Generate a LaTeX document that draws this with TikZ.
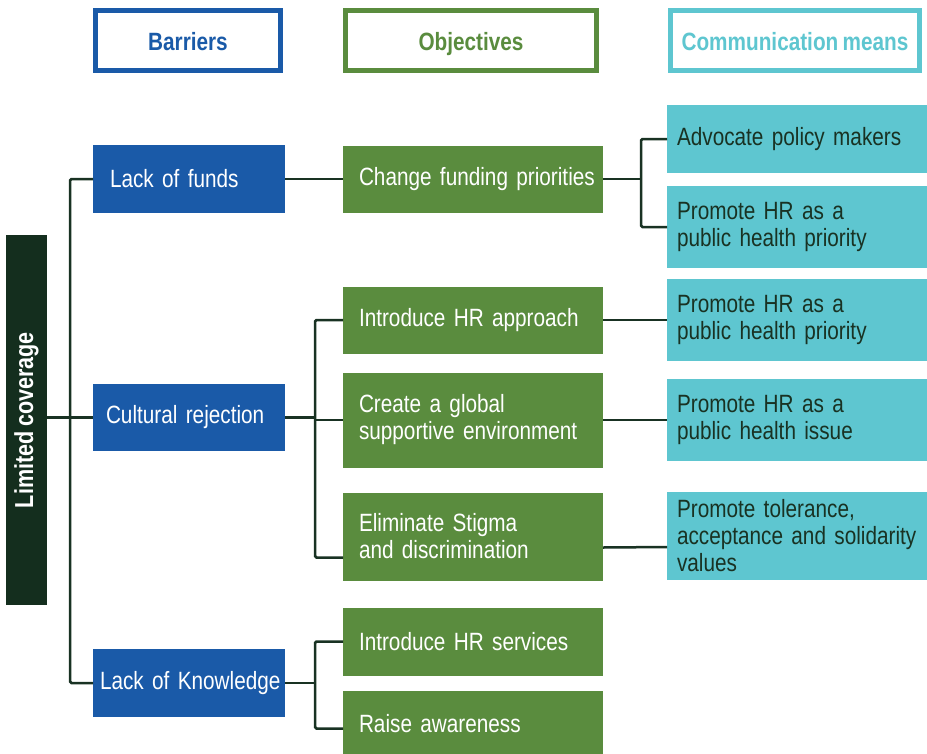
\documentclass[tikz,border=0pt]{standalone}
\usepackage{fontspec}
\setmainfont{Liberation Sans}[FakeStretch=0.83, WordSpace=0.75]
\usetikzlibrary{positioning}
\definecolor{barrier}{RGB}{26,90,168}
\definecolor{objective}{RGB}{90,140,62}
\definecolor{means}{RGB}{94,198,208}
\definecolor{rootcol}{RGB}{20,46,30}
\definecolor{link}{RGB}{25,50,35}

\begin{document}
\begin{tikzpicture}[x=1pt, y=-1pt,
          base/.style={rectangle, outer sep=0pt, inner ysep=0pt, inner xsep=3pt, align=left,
                       anchor=north west, font=\fontsize{25}{27}\selectfont},
          pad/.style={execute at begin node={\leftskip=#1\hyphenpenalty=10000\relax}},
          head/.style={rectangle, draw=#1, text=#1, line width=5pt, fill=white,
                       minimum height=60pt, text height=19pt, text depth=0pt,
                       font=\fontsize{25}{27}\selectfont\bfseries},
          bar/.style={base, fill=barrier, text=white, minimum width=192pt, text width=186pt, pad=13pt},
          obj/.style={base, fill=objective, text=white, minimum width=260pt, text width=254pt, pad=13pt},
          mean/.style={base, fill=means, text=link, minimum width=260pt, text width=254pt, pad=7pt},
          conn/.style={draw=link, line width=2.5pt, rounded corners=1.5pt}
        ]
        \useasboundingbox (0,0) rectangle (927,753);
        % column heads
        \node[head=barrier,   minimum width=185pt] (hbar) at (188,40.5) {Barriers};
        \node[head=objective, minimum width=251pt] (hobj) at (471,40.5) {Objectives};
        \node[head=means,     minimum width=249pt] (hcom) at (795,40.5) {Communication means};
        % root
        \node[base, fill=rootcol, text=white, minimum width=41pt, minimum height=370pt,
              inner sep=0pt, font=\fontsize{26}{28}\selectfont\bfseries] (root) at (6,235)
              {\rotatebox{90}{Limited coverage}};
        % barriers
        \node[bar, minimum height=68pt, pad=14pt] (fund) at (93,145) {Lack of funds};
        \node[bar, minimum height=67pt, pad=10pt] (cult) at (93,384) {Cultural rejection};
        \node[bar, minimum height=68pt, pad=4pt] (knw) at (93,649) {Lack of Knowledge};
        % objectives
        \node[obj, minimum height=67pt, right=58pt of fund] (chg) {Change funding priorities};
        \node[obj, minimum height=67pt, below=74pt of chg] (intro) {Introduce HR approach};
        \node[obj, minimum height=95pt, below=19pt of intro] (glob) {Create a global\\supportive environment};
        \node[obj, minimum height=88pt, below=25pt of glob] (elim) {Eliminate Stigma\\and discrimination};
        \node[obj, minimum height=68pt, below=27pt of elim] (srv) {Introduce HR services};
        \node[obj, minimum height=66pt, below=15pt of srv] (rais) {Raise awareness};
        % communication means
        \node[mean, minimum height=68pt] (adv) at (667,105) {Advocate policy makers};
        \node[mean, minimum height=82pt, below=13pt of adv] (prom1) {Promote HR as a\\public health priority};
        \node[mean, minimum height=82pt, below=11pt of prom1] (prom2) {Promote HR as a\\public health priority};
        \node[mean, minimum height=82pt, below=18pt of prom2] (iss) {Promote HR as a\\public health issue};
        \node[mean, minimum height=88pt, below=31pt of iss] (tol) {Promote tolerance,\\acceptance and solidarity\\values};
        % connectors
        \coordinate (busA) at (70,416);
        \coordinate (busB) at (315,420);
        \coordinate (busC) at (641,179);
        \coordinate (busD) at (315,683);
        \draw[conn] (fund.west) -| (busA) |- (knw.west);
        \draw[conn] (root.east |- cult.west) -- (cult.west);
        \draw[conn] (fund.east) -- (chg.west);
        \draw[conn] (chg.east) -- (chg.east -| busC);
        \draw[conn] (adv.west) -| (busC) |- (prom1.west);
        \draw[conn] (cult.east) -- (cult.east -| busB);
        \draw[conn] (intro.west) -| (busB) |- ([yshift=-21pt]elim.west);
        \draw[conn] (glob.west) -- (glob.west -| busB);
        \draw[conn] (intro.east) -- (prom2.west);
        \draw[conn] (glob.east) -- (iss.west);
        \draw[conn] ([yshift=-11pt]elim.east) -- ([yshift=-11pt]tol.west);
        \draw[conn] (knw.east) -- (knw.east -| busD);
        \draw[conn] (srv.west) -| (busD) |- ([yshift=-5pt]rais.west);
      \end{tikzpicture}
\end{document}
